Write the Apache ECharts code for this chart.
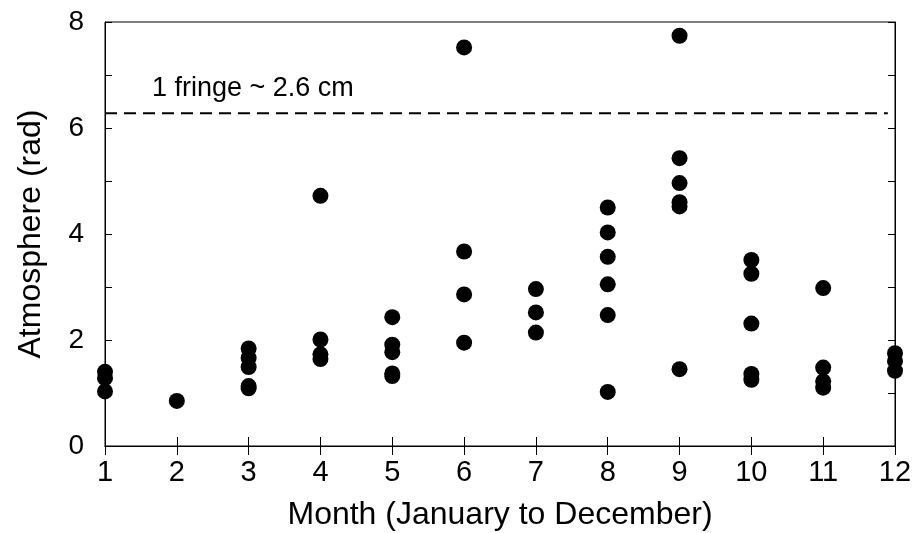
<!DOCTYPE html>
<html><head><meta charset="utf-8">
<script src="https://cdn.jsdelivr.net/npm/echarts@6/dist/echarts.min.js"></script>
<style>html,body{margin:0;padding:0;background:#fff}#c{width:916px;height:533px}</style>
</head><body><div id="c"></div>
<script>
var months = [1,2,3,4,5,6,7,8,9,10,11,12];
var month1 = [1.40, 1.28, 1.03];
var month2 = [0.85];
var month3 = [1.84, 1.66, 1.49, 1.13, 1.09];
var month4 = [4.72, 2.01, 1.73, 1.64];
var month5 = [2.43, 1.91, 1.77, 1.37, 1.32];
var month6 = [7.52, 3.67, 2.86, 1.95];
var month7 = [2.96, 2.52, 2.14];
var month8 = [4.50, 4.03, 3.57, 3.05, 2.47, 1.02];
var month9 = [7.74, 5.43, 4.96, 4.60, 4.52, 1.45];
var month10 = [3.51, 3.25, 2.31, 1.36, 1.25];
var month11 = [2.98, 1.48, 1.22, 1.10];
var month12 = [1.75, 1.60, 1.42];
var fringeLevel = 6.28;
var fringeStart = 1, fringeEnd = 11.9;
var fringeText = '1 fringe ~ 2.6 cm';
var yTicks = [0, 2, 4, 6, 8];

var perMonth = [month1,month2,month3,month4,month5,month6,month7,month8,month9,month10,month11,month12];
var pts = [];
perMonth.forEach(function(arr, i){ arr.forEach(function(v){ pts.push([months[i], v]); }); });

var font = 'Liberation Sans, Arial, sans-serif';
var chart = echarts.init(document.getElementById('c'), null, {renderer:'canvas'});
var tickStyle = {show:true, inside:true, length:9, lineStyle:{color:'#000', width:1}};
chart.setOption({
  animation:false,
  grid:{left:105, right:21, top:22, bottom:87, show:true, borderColor:'#000', borderWidth:1,
        containLabel:false, outerBoundsMode:'none'},
  xAxis:[{
    type:'value', min:1, max:12, interval:1,
    name:'Month (January to December)', nameLocation:'middle', nameGap:53,
    nameTextStyle:{fontFamily:font, fontSize:32, color:'#000'},
    axisLine:{show:true, lineStyle:{color:'#000'}},
    axisTick:tickStyle,
    axisLabel:{fontFamily:font, fontSize:29, color:'#000', margin:12},
    splitLine:{show:false}
  },{
    type:'value', min:1, max:12, interval:1, position:'top',
    axisLine:{show:true, lineStyle:{color:'#000'}},
    axisTick:tickStyle, axisLabel:{show:false}, splitLine:{show:false}
  }],
  yAxis:[{
    type:'value', min:0, max:8, interval:1,
    name:'Atmosphere (rad)', nameLocation:'middle', nameGap:58,
    nameTextStyle:{fontFamily:font, fontSize:32, color:'#000'},
    axisLine:{show:true, lineStyle:{color:'#000'}},
    axisTick:{show:true, inside:true, length:7, lineStyle:{color:'#000'}},
    axisLabel:{fontFamily:font, fontSize:28, color:'#000', margin:21,
      formatter:function(v){ return yTicks.indexOf(v) >= 0 ? String(v) : ''; }},
    splitLine:{show:false}
  },{
    type:'value', min:0, max:8, interval:1, position:'right',
    axisLine:{show:true, lineStyle:{color:'#000'}},
    axisTick:{show:true, inside:true, length:7, lineStyle:{color:'#000'}},
    axisLabel:{show:false}, splitLine:{show:false}
  }],
  series:[{
    type:'scatter', data:pts, symbol:'circle', symbolSize:16, clip:false,
    itemStyle:{color:'#000', opacity:1}
  },{
    type:'line', data:[[fringeStart, fringeLevel],[fringeEnd, fringeLevel]],
    symbol:'none', lineStyle:{color:'#000', width:2, type:[12,7]}
  }],
  graphic:[{
    type:'text', left:152, top:75,
    style:{text:fringeText, font:'27px ' + font, fill:'#000'}
  }]
});
</script></body></html>
